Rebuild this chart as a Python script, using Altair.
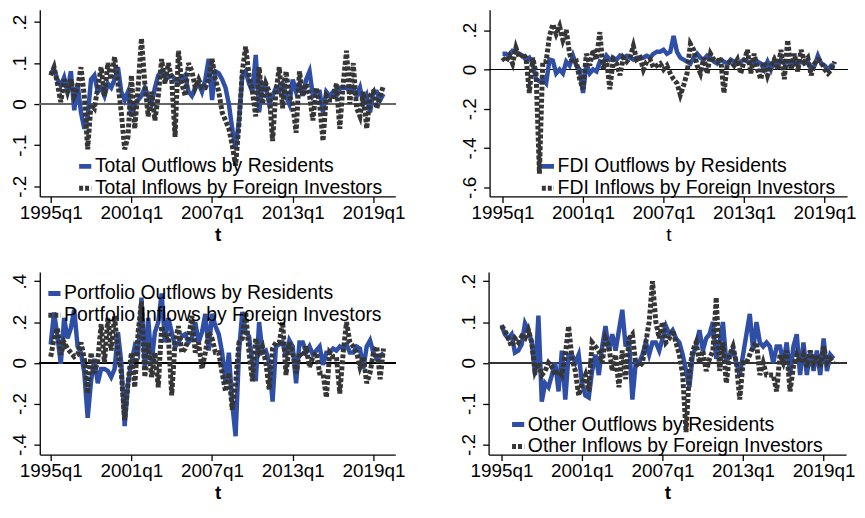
import altair as alt
import pandas as pd

# quarter index: 0 = 1995q1 ... 99 = 2019q4
quarters = list(range(100))
x_tick_values = [0, 24, 48, 72, 96]   # 1995q1, 2001q1, 2007q1, 2013q1, 2019q1

total_out = [
    0.075, 0.085, 0.06, 0.045,   0.065, 0.03, 0.08, -0.015,   0.05, -0.02, -0.06, -0.03,
    0.06, 0.07, 0.03, 0.04,      0.02, 0.05, 0.04, 0.06,      0.09, 0.03, 0.01, 0.03,
    -0.03, 0.0, 0.01, 0.02,      0.04, 0.02, 0.0, 0.04,       0.07, 0.08, 0.07, 0.065,
    0.07, 0.06, 0.05, 0.06,      0.07, 0.03, 0.02, 0.04,      0.05, 0.03, 0.06, 0.11,
    0.01, 0.08, 0.075, 0.06,     0.04, 0.0, -0.06, -0.11,     -0.04, 0.07, 0.08, 0.05,
    0.03, 0.12, -0.02, 0.05,     0.04, 0.0, 0.02, 0.04,       0.03, 0.05, 0.02, 0.0,
    0.06, 0.03, 0.05, 0.02,      0.06, 0.08, 0.02, 0.03,      0.03, -0.02, 0.03, 0.02,
    0.03, 0.02, 0.04, 0.04,      0.04, 0.03, 0.04, 0.02,      0.04, 0.0, 0.02, -0.02,
    0.03, 0.03, 0.01, 0.025,
]
total_in = [
    0.07, 0.09, 0.05, 0.005,     0.06, 0.03, 0.06, 0.02,      0.04, 0.09, 0.02, -0.11,
    0.0, -0.01, 0.04, 0.09,      0.02, 0.1, 0.06, 0.115,      0.05, -0.02, -0.11, -0.08,
    0.07, -0.06, 0.04, 0.16,     0.05, -0.03, 0.03, -0.04,    0.02, 0.11, 0.05, 0.1,
    0.06, -0.08, 0.13, 0.05,     0.02, 0.1, 0.08, 0.04,       0.06, 0.04, 0.04, 0.06,
    0.11, 0.06, 0.03, -0.02,     -0.04, -0.06, -0.1, -0.15,   -0.05, 0.08, 0.14, 0.07,
    0.03, -0.03, 0.09, 0.0,      0.05, 0.03, -0.09, 0.03,     0.09, -0.01, 0.08, 0.02,
    0.0, -0.07, 0.08, 0.02,      0.05, 0.02, -0.04, 0.04,     0.0, -0.09, 0.02, 0.01,
    0.01, 0.05, -0.06, 0.05,     0.13, 0.0, 0.1, -0.01,       -0.03, 0.03, -0.06, 0.02,
    0.03, -0.01, 0.02, 0.045,
]
fdi_out = [
    0.08, 0.08, 0.07, 0.095,     0.09, 0.08, 0.07, 0.05,      0.06, 0.03, -0.05, -0.06,
    -0.05, -0.07, 0.05, 0.045,   -0.02, 0.0, -0.02, 0.04,     0.02, 0.07, 0.02, 0.0,
    -0.12, 0.03, -0.02, 0.0,     -0.01, 0.04, 0.03, 0.07,     0.05, 0.06, 0.05, 0.07,
    0.06, 0.07, 0.06, 0.05,      0.06, 0.06, 0.06, 0.07,      0.06, 0.08, 0.09, 0.09,
    0.1, 0.08, 0.09, 0.17,       0.09, 0.06, 0.05, 0.04,      0.03, 0.06, 0.08, 0.06,
    0.05, 0.07, 0.06, 0.04,      0.03, 0.05, 0.04, 0.03,      0.05, 0.04, 0.03, 0.04,
    0.05, 0.04, 0.04, 0.03,      0.04, 0.03, 0.0, 0.04,       0.0, 0.05, 0.02, 0.05,
    0.03, 0.04, 0.02, 0.05,      0.03, 0.04, 0.03, 0.04,      0.0, 0.02, 0.07, 0.03,
    0.02, 0.0, 0.02, 0.02,
]
fdi_in = [
    0.06, 0.04, 0.07, 0.03,      0.11, 0.06, 0.08, 0.06,      -0.12, 0.06, -0.02, -0.53,
    0.04, 0.04, 0.17, 0.23,      0.18, 0.22, 0.15, 0.2,       0.08, 0.03, 0.04, -0.05,
    -0.1, 0.08, 0.02, 0.1,       0.05, 0.19, 0.0, 0.05,       -0.1, 0.05, 0.03, -0.03,
    0.06, 0.04, 0.06, 0.12,      0.05, 0.06, 0.0, 0.04,       0.05, 0.01, 0.02, 0.03,
    0.0, 0.02, -0.02, -0.05,     -0.07, -0.13, -0.08, -0.02,  0.13, 0.1, 0.02, -0.02,
    0.06, -0.02, 0.08, 0.05,     0.04, 0.06, -0.12, 0.03,     0.04, 0.02, 0.05, -0.02,
    0.04, 0.1, -0.02, 0.08,      0.0, -0.05, 0.04, -0.03,     0.02, 0.05, 0.0, 0.1,
    -0.05, 0.15, 0.0, 0.08,      -0.01, 0.1, 0.04, 0.06,      -0.03, 0.03, 0.05, 0.04,
    0.0, -0.02, 0.0, 0.04,
]
port_out = [
    0.09, 0.247, 0.13, -0.005,   0.22, 0.12, 0.17, 0.26,      0.08, 0.05, -0.05, -0.27,
    -0.09, 0.02, -0.1, -0.03,    -0.03, -0.04, -0.07, -0.03,  0.15, 0.0, -0.31, -0.1,
    0.0, 0.08, 0.05, 0.32,       -0.03, 0.22, 0.0, 0.15,      0.2, 0.34, 0.1, 0.22,
    0.15, 0.08, 0.1, 0.13,       0.14, 0.1, 0.12, 0.2,        0.1, 0.15, 0.24, 0.06,
    0.24, 0.18, 0.14, 0.05,      -0.1, 0.05, -0.2, -0.36,     0.05, 0.25, 0.15, 0.13,
    0.0, -0.09, 0.2, 0.05,       0.06, 0.0, -0.19, 0.08,      0.09, 0.1, 0.03, 0.11,
    0.08, -0.1, 0.1, 0.1,        0.05, 0.08, 0.04, 0.06,      0.08, -0.01, 0.05, 0.05,
    0.07, 0.06, 0.08, 0.07,      0.09, 0.05, 0.05, 0.08,      0.07, -0.03, 0.08, 0.11,
    0.05, 0.02, 0.03, 0.05,
]
port_in = [
    0.03, 0.12, 0.17, 0.04,      0.1, 0.07, 0.05, 0.03,       0.04, 0.1, 0.02, -0.15,
    0.05, -0.05, 0.01, 0.19,     0.0, 0.22, 0.06, 0.23,       0.05, -0.05, -0.28, -0.1,
    0.05, -0.12, 0.15, 0.3,      -0.07, 0.1, -0.07, 0.05,     -0.12, 0.18, 0.12, 0.13,
    -0.16, 0.1, 0.18, 0.05,      0.07, 0.12, 0.23, 0.05,      0.1, -0.03, 0.05, 0.15,
    0.12, 0.05, 0.05, -0.05,     -0.14, -0.05, -0.23, -0.1,   0.1, 0.12, 0.25, 0.05,
    -0.09, 0.12, 0.05, 0.08,     0.0, -0.13, 0.07, 0.1,       0.1, 0.2, -0.06, 0.1,
    0.05, -0.05, 0.05, 0.03,     0.08, -0.02, 0.03, 0.05,     -0.05, -0.05, -0.17, 0.05,
    0.03, 0.03, -0.15, 0.05,     0.2, 0.1, 0.08, 0.05,        -0.02, 0.03, -0.1, -0.05,
    0.05, 0.08, -0.08, 0.07,
]
other_out = [
    0.093, 0.07, 0.06, 0.07,     0.025, 0.03, 0.045, 0.097,   0.08, 0.05, -0.03, 0.116,
    -0.095, -0.05, -0.06, -0.03, 0.0, -0.07, 0.03, -0.09,     0.02, 0.02, 0.0, 0.02,
    -0.05, -0.08, -0.085, -0.02, 0.02, -0.03, 0.04, 0.09,     0.03, 0.07, 0.03, 0.08,
    0.13, 0.04, 0.06, -0.09,     0.0, 0.0, 0.02, 0.05,        0.02, 0.05, 0.05, 0.03,
    0.06, 0.09, 0.07, 0.08,      0.06, 0.05, 0.02, -0.02,     -0.06, 0.02, 0.04, 0.08,
    0.03, 0.06, 0.07, 0.1,       0.01, 0.05, 0.1, 0.0,        0.02, 0.03, 0.0, -0.03,
    0.02, 0.07, 0.12, 0.03,      0.1, 0.05, 0.04, 0.05,       0.04, 0.0, 0.04, 0.04,
    0.0, 0.05, -0.03, 0.04,      0.07, -0.03, 0.05, -0.03,    0.03, -0.02, 0.03, -0.03,
    0.06, -0.02, 0.02, 0.01,
]
other_in = [
    0.09, 0.08, 0.06, 0.04,      0.06, 0.05, 0.065, 0.06,     0.08, 0.05, -0.02, 0.0,
    -0.03, -0.02, 0.0, -0.01,    -0.03, -0.02, -0.03, 0.02,   0.09, 0.01, -0.02, -0.08,
    -0.05, -0.03, -0.07, 0.05,   0.04, 0.03, 0.0, 0.06,       0.04, -0.02, 0.02, -0.06,
    0.03, -0.04, 0.06, 0.07,     0.0, -0.01, 0.0, 0.05,       0.1, 0.2, 0.1, 0.06,
    0.1, 0.05, 0.06, 0.08,       0.05, 0.02, -0.03, -0.17,    -0.02, 0.03, 0.05, 0.0,
    0.03, -0.02, 0.01, 0.03,     0.16, -0.02, 0.05, -0.05,    0.02, 0.04, 0.0, -0.09,
    0.0, 0.0, 0.02, 0.04,        0.05, -0.03, 0.0, -0.03,     -0.03, -0.03, -0.07, 0.02,
    0.0, 0.03, -0.07, -0.01,     0.02, 0.0, 0.02, -0.01,      0.03, 0.0, 0.02, -0.01,
    0.04, 0.0, 0.01, 0.0,
]

BLUE = "#2f4fa6"
GRAY = "#363636"
FONT = "Liberation Sans"


def panel(name, out_vals, in_vals, ydomain, yticks, xdomain, width, height,
          legend_x, legend_y, title_weight, title_pad, zero_color, zero_width):
    out_label = f"{name} Outflows by Residents"
    in_label = f"{name} Inflows by Foreign Investors"
    df = pd.DataFrame({
        "t": quarters + quarters,
        "value": out_vals + in_vals,
        "series": [out_label] * len(quarters) + [in_label] * len(quarters),
    })
    leg = alt.Legend(orient="none", legendX=legend_x, legendY=legend_y, title=None)
    color = alt.Color("series:N",
                      scale=alt.Scale(domain=[out_label, in_label], range=[BLUE, GRAY]),
                      legend=leg)
    dash = alt.StrokeDash("series:N",
                          scale=alt.Scale(domain=[out_label, in_label], range=[[1, 0], [4, 2]]),
                          legend=leg)
    x = alt.X("t:Q",
              scale=alt.Scale(domain=xdomain, nice=False, zero=False),
              axis=alt.Axis(values=x_tick_values,
                            labelExpr="(1995 + floor(datum.value / 4)) + 'q' + (datum.value % 4 + 1)",
                            title="t", titleFontWeight=title_weight, titlePadding=title_pad,
                            labelFlush=False, labelOverlap=False))
    y = alt.Y("value:Q",
              scale=alt.Scale(domain=ydomain, nice=False, zero=False),
              axis=alt.Axis(values=yticks,
                            labelExpr="datum.value == 0 ? '0' : replace(datum.value + '', '0.', '.')",
                            labelAngle=270, labelAlign="center", labelBaseline="bottom",
                            labelFlush=False, labelOverlap=False, title=None))
    base = alt.Chart(df)
    zero = base.mark_rule(color=zero_color, strokeWidth=zero_width).encode(y=alt.datum(0))
    out_line = base.transform_filter(alt.datum.series == out_label).mark_line(
        strokeWidth=4.5, clip=True).encode(x=x, y=y, color=color, strokeDash=dash)
    in_line = base.transform_filter(alt.datum.series == in_label).mark_line(
        strokeWidth=5, clip=True).encode(x=x, y=y, color=color, strokeDash=dash)
    return alt.layer(zero, out_line, in_line).properties(width=width, height=height)


H1 = 188
H2 = 184
LEFT_X = [-3.25, 102.5]
RIGHT_X = [-3.85, 102.7]

p_total = panel("Total", total_out, total_in, [-0.225, 0.23], [-0.2, -0.1, 0, 0.1, 0.2],
                LEFT_X, 358, H1, 36, 148, "bold", 3, "#666666", 1.6)
p_fdi = panel("FDI", fdi_out, fdi_in, [-0.646, 0.304], [-0.6, -0.4, -0.2, 0, 0.2],
              RIGHT_X, 360, H1, 49, 148, "normal", 3, "black", 1.2)
p_port = panel("Portfolio", port_out, port_in, [-0.45, 0.446], [-0.4, -0.2, 0, 0.2, 0.4],
               LEFT_X, 358, H2, 5, 12, "bold", 3, "black", 1.2)
p_other = panel("Other", other_out, other_in, [-0.225, 0.223], [-0.2, -0.1, 0, 0.1, 0.2],
                RIGHT_X, 360, H2, 20, 144, "bold", 3, "#333333", 1.2)

res = dict(x="independent", y="independent", color="independent", strokeDash="independent")
row1 = alt.hconcat(p_total, p_fdi, spacing=55).resolve_scale(**res)
row2 = alt.hconcat(p_port, p_other, spacing=55).resolve_scale(**res)

chart = (
    alt.vconcat(row1, row2, spacing=28)
    .resolve_scale(**res)
    .properties(padding={"left": 3, "top": 0, "right": 0, "bottom": 0}, background="white")
    .configure_view(stroke=None)
    .configure_axis(domainColor="black", tickColor="black", labelColor="black",
                    titleColor="black", grid=False, labelFont=FONT, labelFontSize=19,
                    titleFont=FONT, titleFontSize=19, tickSize=6, domainWidth=1.3,
                    tickWidth=1.3)
    .configure_axisX(labelPadding=1)
    .configure_axisY(labelPadding=4)
    .configure_legend(labelFont=FONT, labelFontSize=19.5, labelColor="black",
                      symbolType="stroke", symbolStrokeWidth=5, symbolSize=150,
                      labelLimit=500, rowPadding=1, padding=0, labelOffset=0)
)

chart.save("out.html", embed_options={"renderer": "svg", "actions": False})
